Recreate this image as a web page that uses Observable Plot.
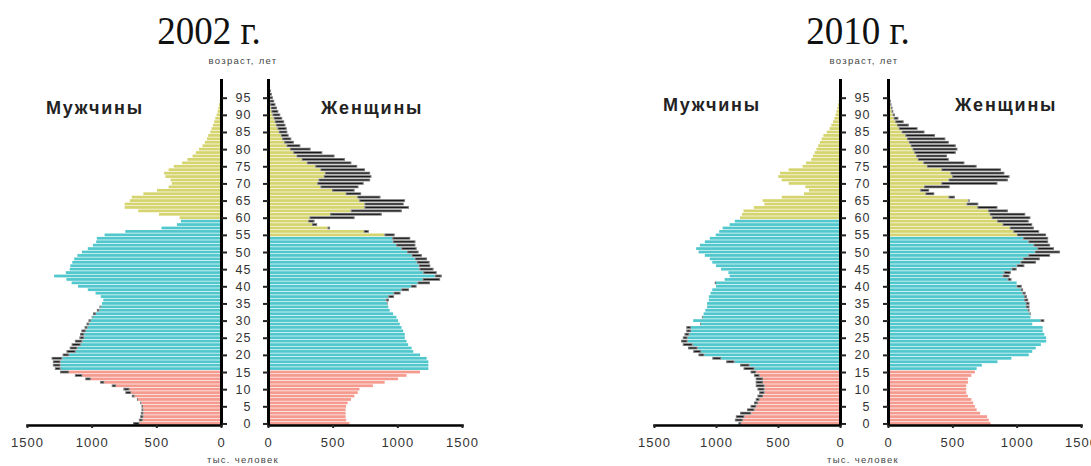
<!DOCTYPE html>
<html><head><meta charset="utf-8">
<script src="https://cdn.jsdelivr.net/npm/d3@7"></script>
<script src="https://cdn.jsdelivr.net/npm/@observablehq/plot@0.6"></script>
<style>
body{margin:0;background:#fff;}
#root{position:relative;width:1091px;height:466px;overflow:hidden;font-family:"Liberation Sans",Arial,sans-serif;background:#fff;}
.abs{position:absolute;white-space:nowrap;line-height:1;}
.title{font-family:"Liberation Serif","Times New Roman",serif;font-size:37px;color:#111;transform:translateX(-50%) scaleY(1.06);transform-origin:50% 0;}
.small{font-size:9.5px;color:#444;letter-spacing:1.3px;transform:translateX(-50%);}
.sex{font-size:18px;font-weight:bold;color:#222;letter-spacing:1.8px;}
.half{position:absolute;top:0;}
</style>
</head><body>
<div id="root"></div>
<script>
const ages = d3.range(0, 101);
const ageTicks = d3.range(0, 100, 5);
const xTicks = [0, 500, 1000, 1500];
const groupNames = ["дети", "трудоспособные", "старше"];
const groupColors = ["#f59a8e", "#4fc7cc", "#d5d46e"];
const excessColor = "#767676";
const excessCore = "#111111";

const titles = ["2002 г.", "2010 г."];
const labelAge = "возраст, лет";
const labelUnit = "тыс. человек";
const labelMen = "Мужчины";
const labelWomen = "Женщины";

// population by single year of age, thousands (ages 0..100)
const men2002 = [680,635,625,620,615,615,625,650,690,740,
 755,845,935,1050,1130,1245,1285,1300,1300,1310,
 1225,1195,1170,1155,1130,1095,1090,1080,1055,1040,
 1025,1000,990,960,940,920,910,930,970,1030,
 1105,1155,1195,1290,1200,1170,1165,1150,1135,1110,
 1075,1030,990,965,960,900,740,460,340,310,
 320,480,640,745,745,705,690,600,495,405,
 380,390,430,440,405,365,300,260,220,195,
 170,143,125,109,99,83,73,62,52,44,
 34,26,21,16,10,8,6,4,3,2,2];
const women2002 = [630,605,600,600,600,603,616,642,668,694,
 707,811,902,1006,1071,1175,1240,1240,1240,1227,
 1175,1123,1110,1084,1071,1058,1058,1045,1032,1019,
 1006,993,967,941,930,925,935,975,1025,1090,
 1149,1253,1331,1344,1305,1280,1255,1250,1230,1190,
 1165,1150,1140,1140,1100,980,780,480,380,360,
 670,880,1035,1090,1050,1060,870,720,670,700,
 740,790,800,790,750,690,645,595,515,420,
 330,250,200,180,160,150,145,135,125,110,
 95,80,70,58,48,38,30,22,16,11,8];
const men2010 = [820,848,840,806,750,722,694,680,666,652,
 666,680,680,680,694,722,778,806,918,1030,
 1142,1184,1226,1268,1282,1268,1254,1240,1240,1128,
 1184,1114,1100,1086,1072,1072,1058,1058,1044,1030,
 1000,1010,930,890,900,960,1000,1030,1050,1090,
 1140,1160,1130,1090,1050,1002,974,946,890,848,
 806,790,778,694,610,624,470,290,250,280,
 414,470,498,484,414,302,274,232,218,204,
 190,176,162,148,134,106,84,70,56,45,
 36,28,22,17,11,9,7,5,3,2,2];
const women2010 = [797,783,770,716,689,675,662,648,621,608,
 608,608,621,621,648,675,689,729,851,959,
 1094,1121,1148,1188,1229,1229,1215,1202,1202,1121,
 1215,1107,1110,1100,1100,1100,1090,1080,1070,1050,
 1040,1000,960,945,955,1000,1060,1150,1180,1260,
 1337,1290,1260,1245,1245,1229,1175,1134,1121,1094,
 1107,1067,932,851,702,635,520,360,320,480,
 851,932,945,905,878,689,594,473,459,527,
 540,527,473,446,365,284,230,162,122,81,
 54,41,35,27,22,16,12,9,6,4,3];

const root = document.getElementById("root");

function addText(cls, text, left, top) {
  const d = document.createElement("div");
  d.className = "abs " + cls;
  d.textContent = text;
  d.style.left = left + "px";
  d.style.top = top + "px";
  root.appendChild(d);
}

function half(own, other, isMen, pos) {
  const retire = isMen ? 60 : 55;
  const rows = ages.map((a, i) => ({
    age: a, v: own[i], o: other[i], lo: Math.min(own[i], other[i]),
    grp: a < 16 ? groupNames[0] : (a < retire ? groupNames[1] : groupNames[2])
  }));
  const ex = rows.filter(d => d.v > d.o);
  const yAxis = isMen
    ? Plot.axisY({anchor: "right", ticks: ageTicks, tickSize: 5, tickPadding: 25, textAnchor: "end", strokeWidth: 2, fontSize: 12.5, fill: "#333"})
    : Plot.axisY({anchor: "left", ticks: ageTicks, tickSize: 5, tickFormat: () => "", strokeWidth: 2});
  const svg = Plot.plot({
    width: pos.width, height: 466,
    marginTop: 79, marginBottom: 41, marginLeft: pos.ml, marginRight: pos.mr,
    style: {fontFamily: "Liberation Sans, Arial, sans-serif", fontSize: "13px", letterSpacing: "1px", color: "#222", background: "transparent", overflow: "visible"},
    x: {domain: [0, 1500], reverse: isMen, label: null},
    y: {type: "band", domain: ages.slice().reverse(), paddingInner: 0.2, paddingOuter: 0.05, label: null},
    color: {domain: groupNames, range: groupColors},
    marks: [
      Plot.barX(rows, {x: "lo", y: "age", fill: "grp"}),
      Plot.barX(ex, {x1: "o", x2: "v", y: "age", fill: excessColor}),
      Plot.barX(ex, {x1: "o", x2: "v", y: "age", fill: excessCore, insetTop: 0.9, insetBottom: 0.9, insetLeft: 1.2, insetRight: 1.2}),
      Plot.frame({anchor: "bottom", strokeWidth: 2.5, stroke: "#000"}),
      Plot.ruleX([0], {stroke: "#000", strokeWidth: 3}),
      Plot.axisX({anchor: "bottom", ticks: xTicks, tickSize: 3, tickPadding: 9, tickFormat: d => String(d), strokeWidth: 2, fill: "#333"}),
      yAxis
    ]
  });
  const wrap = document.createElement("div");
  wrap.className = "half";
  wrap.style.left = pos.left + "px";
  wrap.style.width = pos.width + "px";
  wrap.appendChild(svg);
  root.appendChild(wrap);
}

// 2002
half(men2002, women2002, true, {left: 0, width: 260, ml: 27, mr: 39});
half(women2002, men2002, false, {left: 245, width: 230, ml: 23, mr: 13});
// 2010
half(men2010, women2010, true, {left: 620, width: 260, ml: 34, mr: 40});
half(women2010, men2010, false, {left: 865, width: 240, ml: 23, mr: 24});

addText("title", titles[0], 209, 11);
addText("title", titles[1], 858, 11);
addText("small", labelAge, 243, 56);
addText("small", labelAge, 864, 56);
addText("sex", labelMen, 46, 99);
addText("sex", labelWomen, 321, 99);
addText("sex", labelMen, 663, 96);
addText("sex", labelWomen, 955, 96);
addText("small", labelUnit, 243, 455);
addText("small", labelUnit, 863, 455);
</script>
</body></html>
